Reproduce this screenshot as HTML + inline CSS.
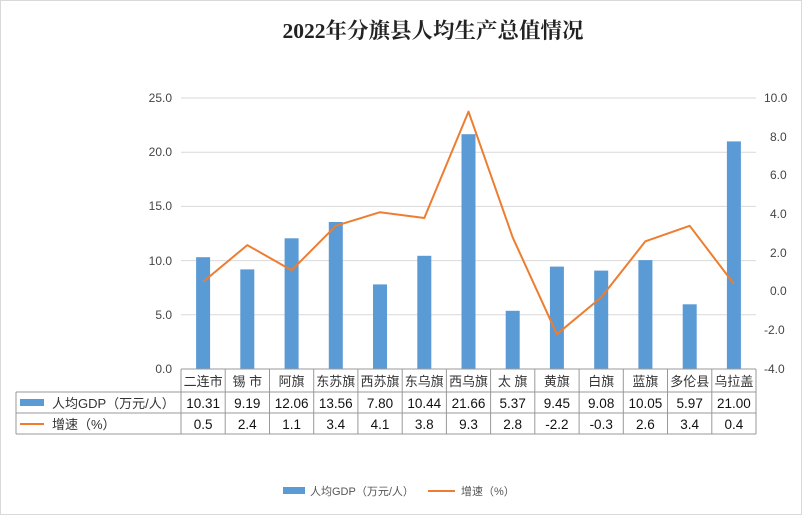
<!DOCTYPE html>
<html><head><meta charset="utf-8"><style>body{margin:0;background:#fff}svg{display:block}</style></head><body>
<svg width="802" height="515" xmlns="http://www.w3.org/2000/svg" font-family="Liberation Sans, Noto Sans CJK SC, sans-serif">
<rect x="0.5" y="0.5" width="801" height="514" fill="#fff" stroke="#d9d9d9"/>
<text x="433" y="38" text-anchor="middle" font-family="Liberation Serif, Noto Serif CJK SC, serif" font-weight="bold" font-size="21.5" fill="#222">2022年分旗县人均生产总值情况</text>
<g stroke="#d9d9d9" stroke-width="1">
<line x1="181" y1="98" x2="756" y2="98"/><line x1="181" y1="152.2" x2="756" y2="152.2"/><line x1="181" y1="206.4" x2="756" y2="206.4"/><line x1="181" y1="260.6" x2="756" y2="260.6"/><line x1="181" y1="314.8" x2="756" y2="314.8"/>
</g>
<g font-size="12" fill="#444" text-anchor="end">
<text x="172" y="102">25.0</text><text x="172" y="156">20.0</text><text x="172" y="210">15.0</text><text x="172" y="265">10.0</text><text x="172" y="319">5.0</text><text x="172" y="373">0.0</text>
</g>
<g font-size="12" fill="#444" text-anchor="start">
<text x="764" y="102">10.0</text><text x="770" y="141">8.0</text><text x="770" y="179">6.0</text><text x="770" y="218">4.0</text><text x="770" y="257">2.0</text><text x="770" y="295">0.0</text><text x="764" y="334">-2.0</text><text x="764" y="373">-4.0</text>
</g>
<g fill="#5b9bd5">
<rect x="196.1" y="257.2" width="14" height="111.8"/>
<rect x="240.3" y="269.4" width="14" height="99.6"/>
<rect x="284.6" y="238.3" width="14" height="130.7"/>
<rect x="328.8" y="222" width="14" height="147"/>
<rect x="373" y="284.4" width="14" height="84.6"/>
<rect x="417.3" y="255.8" width="14" height="113.2"/>
<rect x="461.5" y="134.2" width="14" height="234.8"/>
<rect x="505.7" y="310.8" width="14" height="58.2"/>
<rect x="549.9" y="266.6" width="14" height="102.4"/>
<rect x="594.2" y="270.6" width="14" height="98.4"/>
<rect x="638.4" y="260.1" width="14" height="108.9"/>
<rect x="682.7" y="304.3" width="14" height="64.7"/>
<rect x="726.9" y="141.4" width="14" height="227.6"/>
</g>
<polyline fill="none" stroke="#ed7d31" stroke-width="2" stroke-linejoin="round" points="203.1,281.9 247.3,245.1 291.6,270.3 335.8,225.8 380,212.2 424.3,218 468.5,111.6 512.7,237.4 556.9,334.2 601.2,297.4 645.4,241.3 689.7,225.8 733.9,283.9"/>
<g stroke="#999" stroke-width="1" fill="none">
<line x1="181" y1="369" x2="756" y2="369"/>
<line x1="16" y1="392" x2="756" y2="392"/>
<line x1="16" y1="413" x2="756" y2="413"/>
<line x1="16" y1="434" x2="756" y2="434"/>
<line x1="16" y1="392" x2="16" y2="434"/>
<line x1="181" y1="369" x2="181" y2="434"/><line x1="225.2" y1="369" x2="225.2" y2="434"/><line x1="269.5" y1="369" x2="269.5" y2="434"/><line x1="313.7" y1="369" x2="313.7" y2="434"/><line x1="357.9" y1="369" x2="357.9" y2="434"/><line x1="402.2" y1="369" x2="402.2" y2="434"/><line x1="446.4" y1="369" x2="446.4" y2="434"/><line x1="490.6" y1="369" x2="490.6" y2="434"/><line x1="534.8" y1="369" x2="534.8" y2="434"/><line x1="579.1" y1="369" x2="579.1" y2="434"/><line x1="623.3" y1="369" x2="623.3" y2="434"/><line x1="667.5" y1="369" x2="667.5" y2="434"/><line x1="711.8" y1="369" x2="711.8" y2="434"/><line x1="756" y1="369" x2="756" y2="434"/>
</g>
<g font-size="13" fill="#333" text-anchor="middle">
<text x="203.1" y="386">二连市</text><text x="247.3" y="386">锡 市</text><text x="291.6" y="386">阿旗</text><text x="335.8" y="386">东苏旗</text><text x="380" y="386">西苏旗</text><text x="424.3" y="386">东乌旗</text><text x="468.5" y="386">西乌旗</text><text x="512.7" y="386">太 旗</text><text x="556.9" y="386">黄旗</text><text x="601.2" y="386">白旗</text><text x="645.4" y="386">蓝旗</text><text x="689.7" y="386">多伦县</text><text x="733.9" y="386">乌拉盖</text>
</g>
<g font-size="13.5" fill="#111" text-anchor="middle">
<text x="203.1" y="408">10.31</text><text x="247.3" y="408">9.19</text><text x="291.6" y="408">12.06</text><text x="335.8" y="408">13.56</text><text x="380" y="408">7.80</text><text x="424.3" y="408">10.44</text><text x="468.5" y="408">21.66</text><text x="512.7" y="408">5.37</text><text x="556.9" y="408">9.45</text><text x="601.2" y="408">9.08</text><text x="645.4" y="408">10.05</text><text x="689.7" y="408">5.97</text><text x="733.9" y="408">21.00</text>
<text x="203.1" y="429">0.5</text><text x="247.3" y="429">2.4</text><text x="291.6" y="429">1.1</text><text x="335.8" y="429">3.4</text><text x="380" y="429">4.1</text><text x="424.3" y="429">3.8</text><text x="468.5" y="429">9.3</text><text x="512.7" y="429">2.8</text><text x="556.9" y="429">-2.2</text><text x="601.2" y="429">-0.3</text><text x="645.4" y="429">2.6</text><text x="689.7" y="429">3.4</text><text x="733.9" y="429">0.4</text>
</g>
<rect x="20" y="399" width="24" height="7" fill="#5b9bd5"/>
<text x="52" y="408" font-size="13" fill="#333">人均GDP（万元/人）</text>
<line x1="20" y1="424" x2="44" y2="424" stroke="#ed7d31" stroke-width="2"/>
<text x="52" y="429" font-size="13" fill="#333">增速（%）</text>
<rect x="283" y="487" width="22" height="7" fill="#5b9bd5"/>
<text x="310" y="495" font-size="11" fill="#555">人均GDP（万元/人）</text>
<line x1="428" y1="491" x2="455" y2="491" stroke="#ed7d31" stroke-width="2"/>
<text x="461" y="495" font-size="11" fill="#555">增速（%）</text>
</svg>
</body></html>
